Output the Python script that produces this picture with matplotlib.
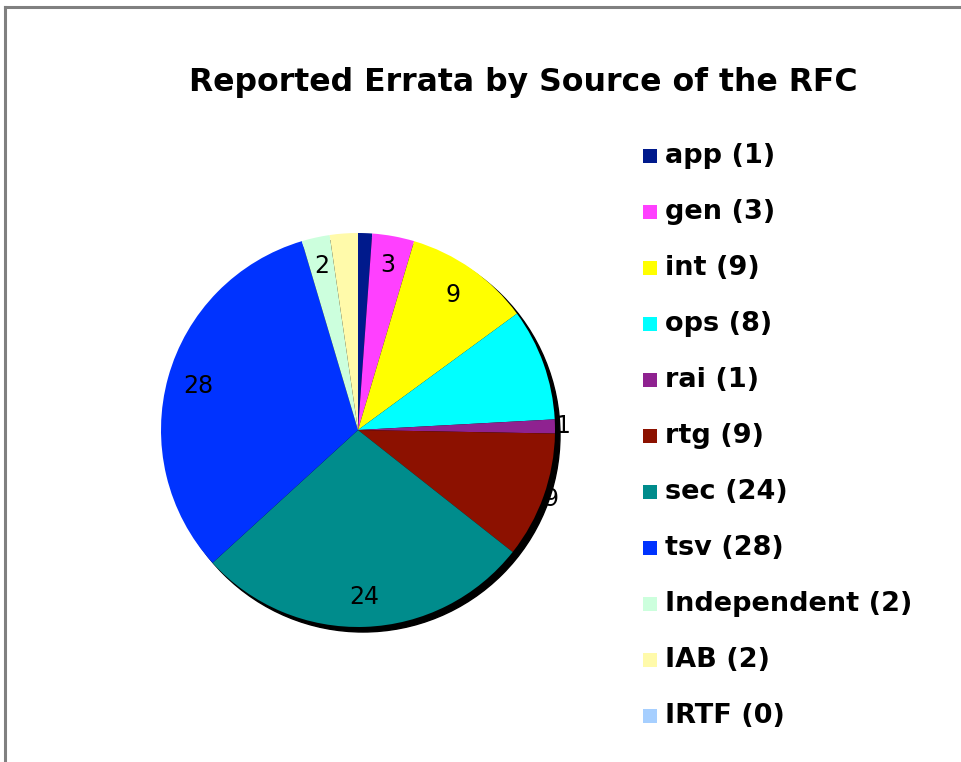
import matplotlib
matplotlib.use("Agg")
import matplotlib.pyplot as plt
from matplotlib.patches import Circle, Rectangle
from matplotlib.lines import Line2D
import numpy as np

categories = ["app", "gen", "int", "ops", "rai", "rtg", "sec", "tsv", "Independent", "IAB", "IRTF"]
values = [1, 3, 9, 8, 1, 9, 24, 28, 2, 2, 0]
colors = ["#001A8C", "#FF40FF", "#FFFF00", "#00FFFF", "#8F2290", "#8C1100",
          "#008C8C", "#0033FF", "#CCFFDD", "#FFFAAA", "#A6CFFF"]
# which slice labels are displayed in the original chart
shown = [False, True, True, False, True, True, True, True, True, False, False]
label_dist = [0.85, 0.85, 0.84, 0.85, 1.04, 1.04, 0.85, 0.84, 0.85, 0.85, 0.85]

W, H = 962, 762
fig = plt.figure(figsize=(W / 100, H / 100), dpi=100)
fig.patch.set_facecolor("white")

def fx(x):
    return x / W

def fy(y):
    return 1 - y / H

# frame lines (top and left)
fig.add_artist(Line2D([fx(5), fx(962)], [fy(7), fy(7)], color="#808080", lw=2.2, transform=fig.transFigure))
fig.add_artist(Line2D([fx(5), fx(5)], [fy(7), fy(762)], color="#808080", lw=2.2, transform=fig.transFigure))

# pie axes
cx, cy, r = 358, 430, 197
ext = 1.3
size = r * ext
ax = fig.add_axes([fx(cx - size), fy(cy + size), 2 * size / W, 2 * size / H])

plot_vals = [v if v > 0 else 1e-9 for v in values]
wedges, _ = ax.pie(plot_vals, colors=colors, startangle=90, counterclock=False,
                   radius=1.0, wedgeprops=dict(linewidth=0))
for w in wedges:
    w.set_zorder(1)

# shadow
off = 5 / r
ax.add_patch(Circle((off, -off), 1.0, color="black", zorder=0))

ax.set_xlim(-ext, ext)
ax.set_ylim(-ext, ext)
ax.set_aspect("auto")
ax.axis("off")

total = sum(values)
cum = 0
for v, s, d in zip(values, shown, label_dist):
    mid = cum + v / 2
    cum += v
    if not s:
        continue
    ang = np.deg2rad(90 - mid / total * 360)
    ax.text(d * np.cos(ang), d * np.sin(ang), str(v), ha="center", va="center",
            fontsize=17, color="black", zorder=3, family="DejaVu Sans")

# title
fig.text(fx(523), fy(82), "Reported Errata by Source of the RFC", ha="center", va="center",
         fontsize=22.7, fontweight="bold", family="DejaVu Sans")

# legend
y0, dy = 156, 56
for i, (c, v, col) in enumerate(zip(categories, values, colors)):
    y = y0 + i * dy
    fig.add_artist(Rectangle((fx(643), fy(y + 7)), 14 / W, 14 / H, facecolor=col,
                             edgecolor="none", transform=fig.transFigure))
    fig.text(fx(665), fy(y), f"{c} ({v})", ha="left", va="center", fontsize=19.5,
             fontweight="bold", family="DejaVu Sans")

fig.savefig("out.png", dpi=100, facecolor="white")
